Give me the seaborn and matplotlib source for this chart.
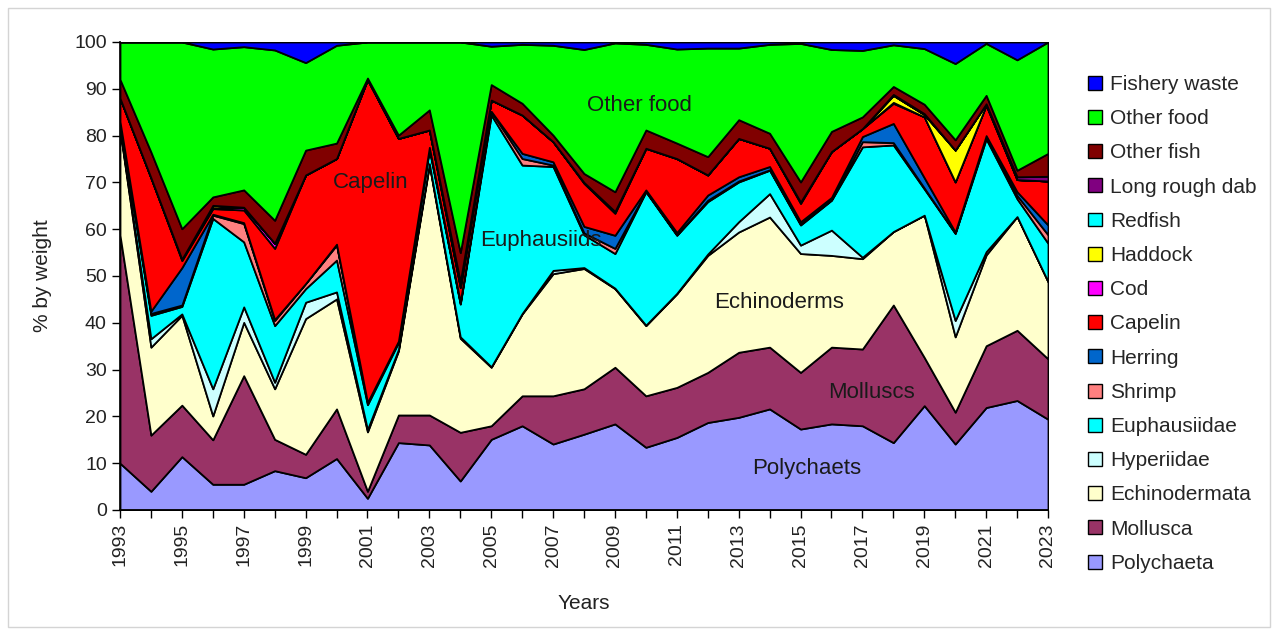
import numpy as np
import pandas as pd
import matplotlib
matplotlib.use("Agg")
import matplotlib.pyplot as plt
from matplotlib.patches import Patch, Rectangle
import seaborn as sns

years = list(range(1993, 2024))

# layer values (% by weight), bottom of the stack first
polychaeta = [10.0, 4.0, 11.4, 5.5, 5.5, 8.4, 6.9, 11.0, 2.5, 14.4, 13.9, 6.2, 15.1, 18.0, 14.1, 16.2,
              18.4, 13.4, 15.5, 18.7, 19.8, 21.6, 17.3, 18.4, 18.0, 14.4, 22.3, 14.1, 21.9, 23.4, 19.4]
mollusca = [48.7, 12.0, 11.0, 9.5, 23.2, 6.7, 5.0, 10.6, 1.5, 5.9, 6.4, 10.4, 2.9, 6.4, 10.3, 9.7,
            12.1, 11.0, 10.7, 10.7, 13.9, 13.2, 12.1, 16.4, 16.4, 29.4, 10.3, 6.8, 13.2, 15.0, 12.9]
echinodermata = [22.5, 18.8, 19.2, 5.1, 11.4, 10.8, 29.0, 23.5, 12.7, 13.7, 53.4, 20.1, 12.5, 17.5, 26.1, 25.7,
                 16.8, 15.0, 20.0, 25.0, 25.7, 27.8, 25.4, 19.6, 19.3, 15.7, 30.4, 16.1, 19.4, 24.3, 16.5]
hyperiidae = [0.3, 1.8, 0.3, 5.8, 3.3, 1.4, 3.5, 1.5, 0.5, 0.3, 0.3, 0.3, 0.1, 0.1, 0.7, 0.2,
              0.1, 0.1, 0.1, 0.3, 2.2, 5.0, 1.8, 5.4, 0.3, 0.0, 0.0, 3.5, 0.7, 0.0, 0.0]
euphausiidae = [1.0, 5.0, 1.6, 36.4, 13.9, 12.1, 2.9, 6.8, 5.3, 1.5, 3.0, 7.0, 53.8, 31.7, 22.2, 7.0,
                7.4, 28.5, 12.4, 11.2, 8.5, 5.0, 4.3, 6.4, 23.6, 18.5, 5.6, 18.6, 24.1, 3.8, 8.2]
shrimp = [0.2, 0.4, 0.3, 0.7, 3.9, 1.1, 1.1, 3.2, 0.5, 0.3, 0.3, 0.2, 0.7, 1.4, 0.3, 0.4,
          1.1, 0.1, 0.1, 0.3, 0.2, 0.1, 0.2, 0.1, 1.1, 0.5, 0.2, 0.1, 0.5, 0.7, 1.8]
herring = [0.3, 0.5, 8.0, 0.2, 0.2, 0.2, 0.0, 0.2, 0.0, 0.0, 0.2, 0.3, 0.1, 1.1, 0.7, 1.4,
           2.8, 0.3, 0.5, 1.1, 0.9, 0.7, 0.5, 0.5, 1.1, 4.1, 2.2, 0.2, 0.2, 0.8, 2.1]
capelin = [5.0, 28.5, 1.5, 1.2, 2.7, 15.2, 23.2, 18.3, 69.0, 43.3, 3.7, 3.0, 2.4, 8.2, 4.3, 9.2,
           4.7, 8.9, 15.8, 4.3, 8.2, 3.9, 3.9, 9.8, 1.7, 4.3, 13.0, 10.7, 6.5, 2.6, 9.4]
cod = [0.0, 0.0, 0.3, 0.2, 0.5, 1.1, 0.0, 0.0, 0.0, 0.0, 0.0, 0.2, 0.0, 0.0, 0.0, 0.2,
       0.3, 0.0, 0.0, 0.0, 0.0, 0.0, 0.3, 0.0, 0.0, 0.2, 0.0, 0.0, 0.0, 0.0, 0.0]
haddock = [0.0, 0.0, 0.0, 0.5, 0.1, 0.0, 0.0, 0.0, 0.0, 0.0, 0.0, 0.8, 0.0, 0.0, 0.0, 0.0,
           0.0, 0.0, 0.0, 0.0, 0.0, 0.0, 0.0, 0.0, 0.0, 1.5, 0.5, 6.8, 0.3, 0.0, 0.0]
redfish = [0.0] * 31
long_rough_dab = [0.0, 0.0, 0.0, 0.0, 0.0, 0.0, 0.0, 0.0, 0.0, 0.0, 0.0, 0.3, 0.0, 0.0, 0.0, 0.0,
                  0.1, 0.0, 0.0, 0.0, 0.0, 0.0, 0.0, 0.0, 0.0, 0.2, 0.2, 0.0, 0.0, 0.6, 1.0]
other_fish = [4.0, 5.5, 6.5, 1.8, 3.7, 4.9, 5.3, 3.3, 0.3, 0.7, 4.3, 6.2, 3.3, 2.5, 1.4, 1.9,
              4.2, 3.9, 3.3, 3.9, 4.0, 3.2, 4.3, 4.3, 2.5, 1.7, 2.0, 2.2, 1.8, 1.4, 4.9]
other_food = [8.0, 23.5, 39.9, 31.6, 30.6, 36.4, 18.7, 20.9, 7.7, 19.9, 14.5, 45.0, 8.2, 12.6, 19.2, 26.5,
              31.8, 18.3, 20.1, 23.2, 15.3, 19.0, 29.6, 17.5, 14.2, 8.9, 11.9, 16.3, 11.1, 23.6, 23.8]
fishery_waste = [0.0, 0.0, 0.0, 1.5, 1.0, 1.7, 4.4, 0.7, 0.0, 0.0, 0.0, 0.0, 0.9, 0.5, 0.7, 1.6,
                 0.2, 0.5, 1.5, 1.3, 1.3, 0.5, 0.3, 1.6, 1.8, 0.6, 1.4, 4.6, 0.3, 3.8, 0.0]

names = ["Polychaeta", "Mollusca", "Echinodermata", "Hyperiidae", "Euphausiidae", "Shrimp",
         "Herring", "Capelin", "Cod", "Haddock", "Redfish", "Long rough dab", "Other fish",
         "Other food", "Fishery waste"]
colors = ["#9999ff", "#993366", "#ffffcc", "#ccffff", "#00ffff", "#ff8080",
          "#0066cc", "#ff0000", "#ff00ff", "#ffff00", "#00ffff", "#800080", "#800000",
          "#00ff00", "#0000ff"]

df = pd.DataFrame({"year": years, "Polychaeta": polychaeta, "Mollusca": mollusca,
                   "Echinodermata": echinodermata, "Hyperiidae": hyperiidae,
                   "Euphausiidae": euphausiidae, "Shrimp": shrimp, "Herring": herring,
                   "Capelin": capelin, "Cod": cod, "Haddock": haddock, "Redfish": redfish,
                   "Long rough dab": long_rough_dab, "Other fish": other_fish,
                   "Other food": other_food, "Fishery waste": fishery_waste})
# normalise every year to 100 %
tot = df[names].sum(axis=1)
df[names] = df[names].div(tot, axis=0) * 100

sns.set_theme(style="white")
plt.rcParams["font.family"] = ["Liberation Sans", "DejaVu Sans"]

fig = plt.figure(figsize=(12.74, 6.3), dpi=100)
ax = fig.add_axes([120 / 1274, 1 - 510 / 630, 928 / 1274, 468 / 630])

ax.stackplot(df["year"], [df[n] for n in names], colors=colors,
             edgecolor="black", linewidth=1.3)

ax.set_xlim(1993, 2023)
ax.set_ylim(0, 100)
ax.set_xticks(range(1993, 2024, 2))
ax.set_xticks(years, minor=True)
ax.set_yticks(range(0, 101, 10))
ax.tick_params(axis="x", which="both", direction="out", length=6, width=1, colors="black",
               labelsize=14, rotation=90, bottom=True)
ax.tick_params(axis="y", direction="out", length=6, width=1, colors="black", labelsize=14, left=True)
for lab in ax.get_xticklabels() + ax.get_yticklabels():
    lab.set_color("#222222")
sns.despine(ax=ax, top=True, right=True)
ax.spines["left"].set_color("black")
ax.spines["bottom"].set_color("black")
ax.set_xlabel("Years", fontsize=15, color="#222222", labelpad=20)
ax.set_ylabel("% by weight", fontsize=15, color="#222222", labelpad=16)

txt = dict(fontsize=16, color="#1a1a1a", ha="center", va="center")
ax.text(2009.8, 86.5, "Other food", **txt)
ax.text(2001.1, 70.0, "Capelin", **txt)
ax.text(2006.6, 57.5, "Euphausiids", **txt)
ax.text(2014.3, 44.4, "Echinoderms", **txt)
ax.text(2017.3, 25.2, "Molluscs", **txt)
ax.text(2015.2, 8.8, "Polychaets", **txt)

handles = [Patch(facecolor=c, edgecolor="black", linewidth=1.0, label=n)
           for n, c in zip(names, colors)][::-1]
fig.legend(handles=handles, loc="upper left", bbox_to_anchor=(1088 / 1274, 1 - 75 / 630),
           bbox_transform=fig.transFigure, frameon=False, fontsize=15,
           handlelength=0.65, handleheight=0.65, handletextpad=0.4,
           labelspacing=0.73, borderpad=0, borderaxespad=0)

fig.patches.append(Rectangle((8 / 1274, 3 / 630), 1262 / 1274, 619 / 630, transform=fig.transFigure,
                             fill=False, edgecolor="#d4d4d4", linewidth=1))

fig.savefig("out.png", dpi=100)
